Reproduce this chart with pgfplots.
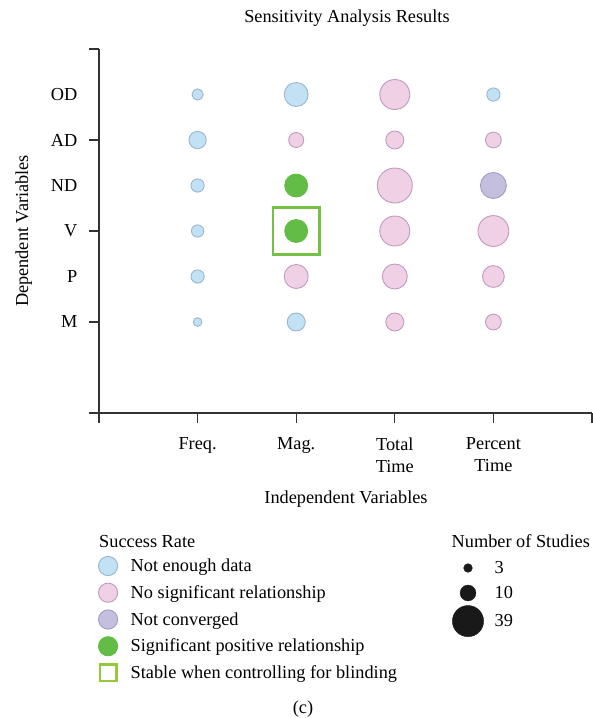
\documentclass[border=0pt]{standalone}
\usepackage{fontspec}
\setmainfont{Liberation Serif}
\usepackage{pgfplots}
\usepackage{pgfplotstable}
\pgfplotsset{compat=1.18}
\definecolor{cblue}{HTML}{C3E1F5}
\definecolor{cblueb}{HTML}{98B6CC}
\definecolor{cpink}{HTML}{EFD0E4}
\definecolor{cpinkb}{HTML}{C09BBD}
\definecolor{cpurple}{HTML}{C4BFDD}
\definecolor{cpurpleb}{HTML}{A39BC9}
\definecolor{cgreen}{HTML}{63BC46}
\definecolor{sqgreen}{HTML}{76C043}
\definecolor{sqgreenl}{HTML}{95C93D}
\definecolor{axisgray}{HTML}{333333}
\newcommand\f{\fontsize{18.3}{22}\selectfont}

% x: 1=Freq., 2=Mag., 3=Total Time, 4=Percent Time ; y: 1=M ... 6=OD ; n = number of studies
\pgfplotstableread{
x y n
1 6 5
2 6 23
4 6 7
1 5 12
1 4 7
1 3 6
1 2 7
1 1 3
2 1 13
}\tblue
\pgfplotstableread{
x y n
3 6 36
2 5 9
3 5 13
4 5 10
3 4 49
3 3 36
4 3 38
2 2 23
3 2 25
4 2 19
3 1 13
4 1 10
}\tpink
\pgfplotstableread{
x y n
4 4 27
}\tpurple
\pgfplotstableread{
x y n
2 4 21
2 3 21
}\tgreen

\pgfplotsset{
  bubble/.style 2 args={scatter, only marks, mark=*, point meta=\thisrow{n},
    scatter/use mapped color={draw=#2, fill=#1},
    visualization depends on={2.5*sqrt(\thisrow{n}) \as \rad},
    scatter/@pre marker code/.append style={/tikz/mark size=\rad},
    mark options={line width=0.9pt}, forget plot},
  common/.style={scale only axis, width=493pt, height=364pt,
    xmin=0, xmax=5, ymin=-1, ymax=7, at={(0pt,0pt)}, anchor=south west}
}

\begin{document}
\begin{tikzpicture}
\useasboundingbox (-99pt,-305pt) rectangle (494pt,413pt);
\begin{axis}[common,
  axis x line*=bottom, axis y line*=left,
  axis line style={axisgray, line width=1.2pt},
  tick align=outside, major tick length=9.5pt,
  tick style={axisgray, line width=1.2pt},
  xtick={0,1,2,3,4,5},
  xticklabels={,Freq.,Mag.,{Total\\Time},{Percent\\Time},},
  xticklabel style={font=\f, align=center, anchor=north, inner sep=0pt, yshift=-15pt},
  ytick={-1,1,3,5,7}, yticklabels={,,,,},
  extra y ticks={1,2,3,4,5,6},
  extra y tick labels={M,P,V,ND,AD,OD},
  extra y tick style={tick style={draw=none},
     yticklabel style={font=\f, anchor=east, inner sep=0pt, xshift=-12pt}},
  title={Sensitivity Analysis Results},
  title style={font=\f, at={(axis description cs:0.503,1)}, anchor=base, yshift=21pt},
  xlabel={Independent Variables},
  xlabel style={font=\f, at={(axis description cs:0.501,0)}, anchor=base, yshift=-90pt},
  ylabel={Dependent Variables},
  ylabel style={font=\f, at={(axis description cs:-0.144,0.5)}, anchor=base},
  legend cell align=left,
  legend style={draw=none, fill=none, at={(axis description cs:0,0)}, anchor=north west,
    xshift=-0.5pt, yshift=-139.6pt, inner sep=0pt, outer sep=0pt, row sep=0pt, font=\f,
    /tikz/every odd column/.append style={column sep=13pt},
    nodes={inner sep=0pt, anchor=west, minimum height=26.75pt}},
]
\addplot[bubble={cblue}{cblueb}] table[x=x,y=y] {\tblue};
\addplot[bubble={cpink}{cpinkb}] table[x=x,y=y] {\tpink};
\addplot[bubble={cpurple}{cpurpleb}] table[x=x,y=y] {\tpurple};
\addplot[bubble={cgreen}{cgreen}] table[x=x,y=y] {\tgreen};
\addplot[only marks, mark=square, mark size=23.3pt, mark options={draw=sqgreen, line width=2.6pt}, forget plot] coordinates {(2,3)};

\addlegendimage{only marks, mark=*, mark size=9.6pt, mark options={fill=cblue, draw=cblueb, line width=0.9pt}}
\addlegendentry{Not enough data}
\addlegendimage{only marks, mark=*, mark size=9.6pt, mark options={fill=cpink, draw=cpinkb, line width=0.9pt}}
\addlegendentry{No significant relationship}
\addlegendimage{only marks, mark=*, mark size=9.6pt, mark options={fill=cpurple, draw=cpurpleb, line width=0.9pt}}
\addlegendentry{Not converged}
\addlegendimage{only marks, mark=*, mark size=9.6pt, mark options={fill=cgreen, draw=cgreen, line width=0.9pt}}
\addlegendentry{Significant positive relationship}
\addlegendimage{only marks, mark=square, mark size=8.3pt, mark options={draw=sqgreenl, fill=white, line width=2.4pt}}
\addlegendentry{Stable when controlling for blinding}
\end{axis}

\begin{axis}[common, hide axis,
  legend cell align=left,
  legend style={draw=none, fill=none, at={(axis description cs:0,0)}, anchor=north west,
    xshift=353.4pt, yshift=-142.5pt, inner sep=0pt, outer sep=0pt, row sep=0pt, font=\f,
    /tikz/every odd column/.append style={column sep=11pt},
    nodes={inner sep=0pt, anchor=west, minimum height=25pt}},
]
\addplot[draw=none, forget plot] coordinates {(0,0)};
\addlegendimage{only marks, mark=*, mark size=4.33pt, mark options={fill=black!90, draw=black!90}}
\addlegendentry{3}
\addlegendimage{only marks, mark=*, mark size=7.91pt, mark options={fill=black!90, draw=black!90}}
\addlegendentry{10}
\addlegendimage{only marks, mark=*, mark size=15.61pt, mark options={fill=black!90, draw=black!90}}
\addlegendentry{39}
\end{axis}

\node[font=\f, anchor=base west, inner sep=0pt] at (0pt,-134pt) {Success Rate};
\node[font=\f, anchor=base west, inner sep=0pt] at (352.5pt,-134pt) {Number of Studies};
\node[font=\f, anchor=base, inner sep=0pt] at (204pt,-300pt) {(c)};
\end{tikzpicture}
\end{document}
